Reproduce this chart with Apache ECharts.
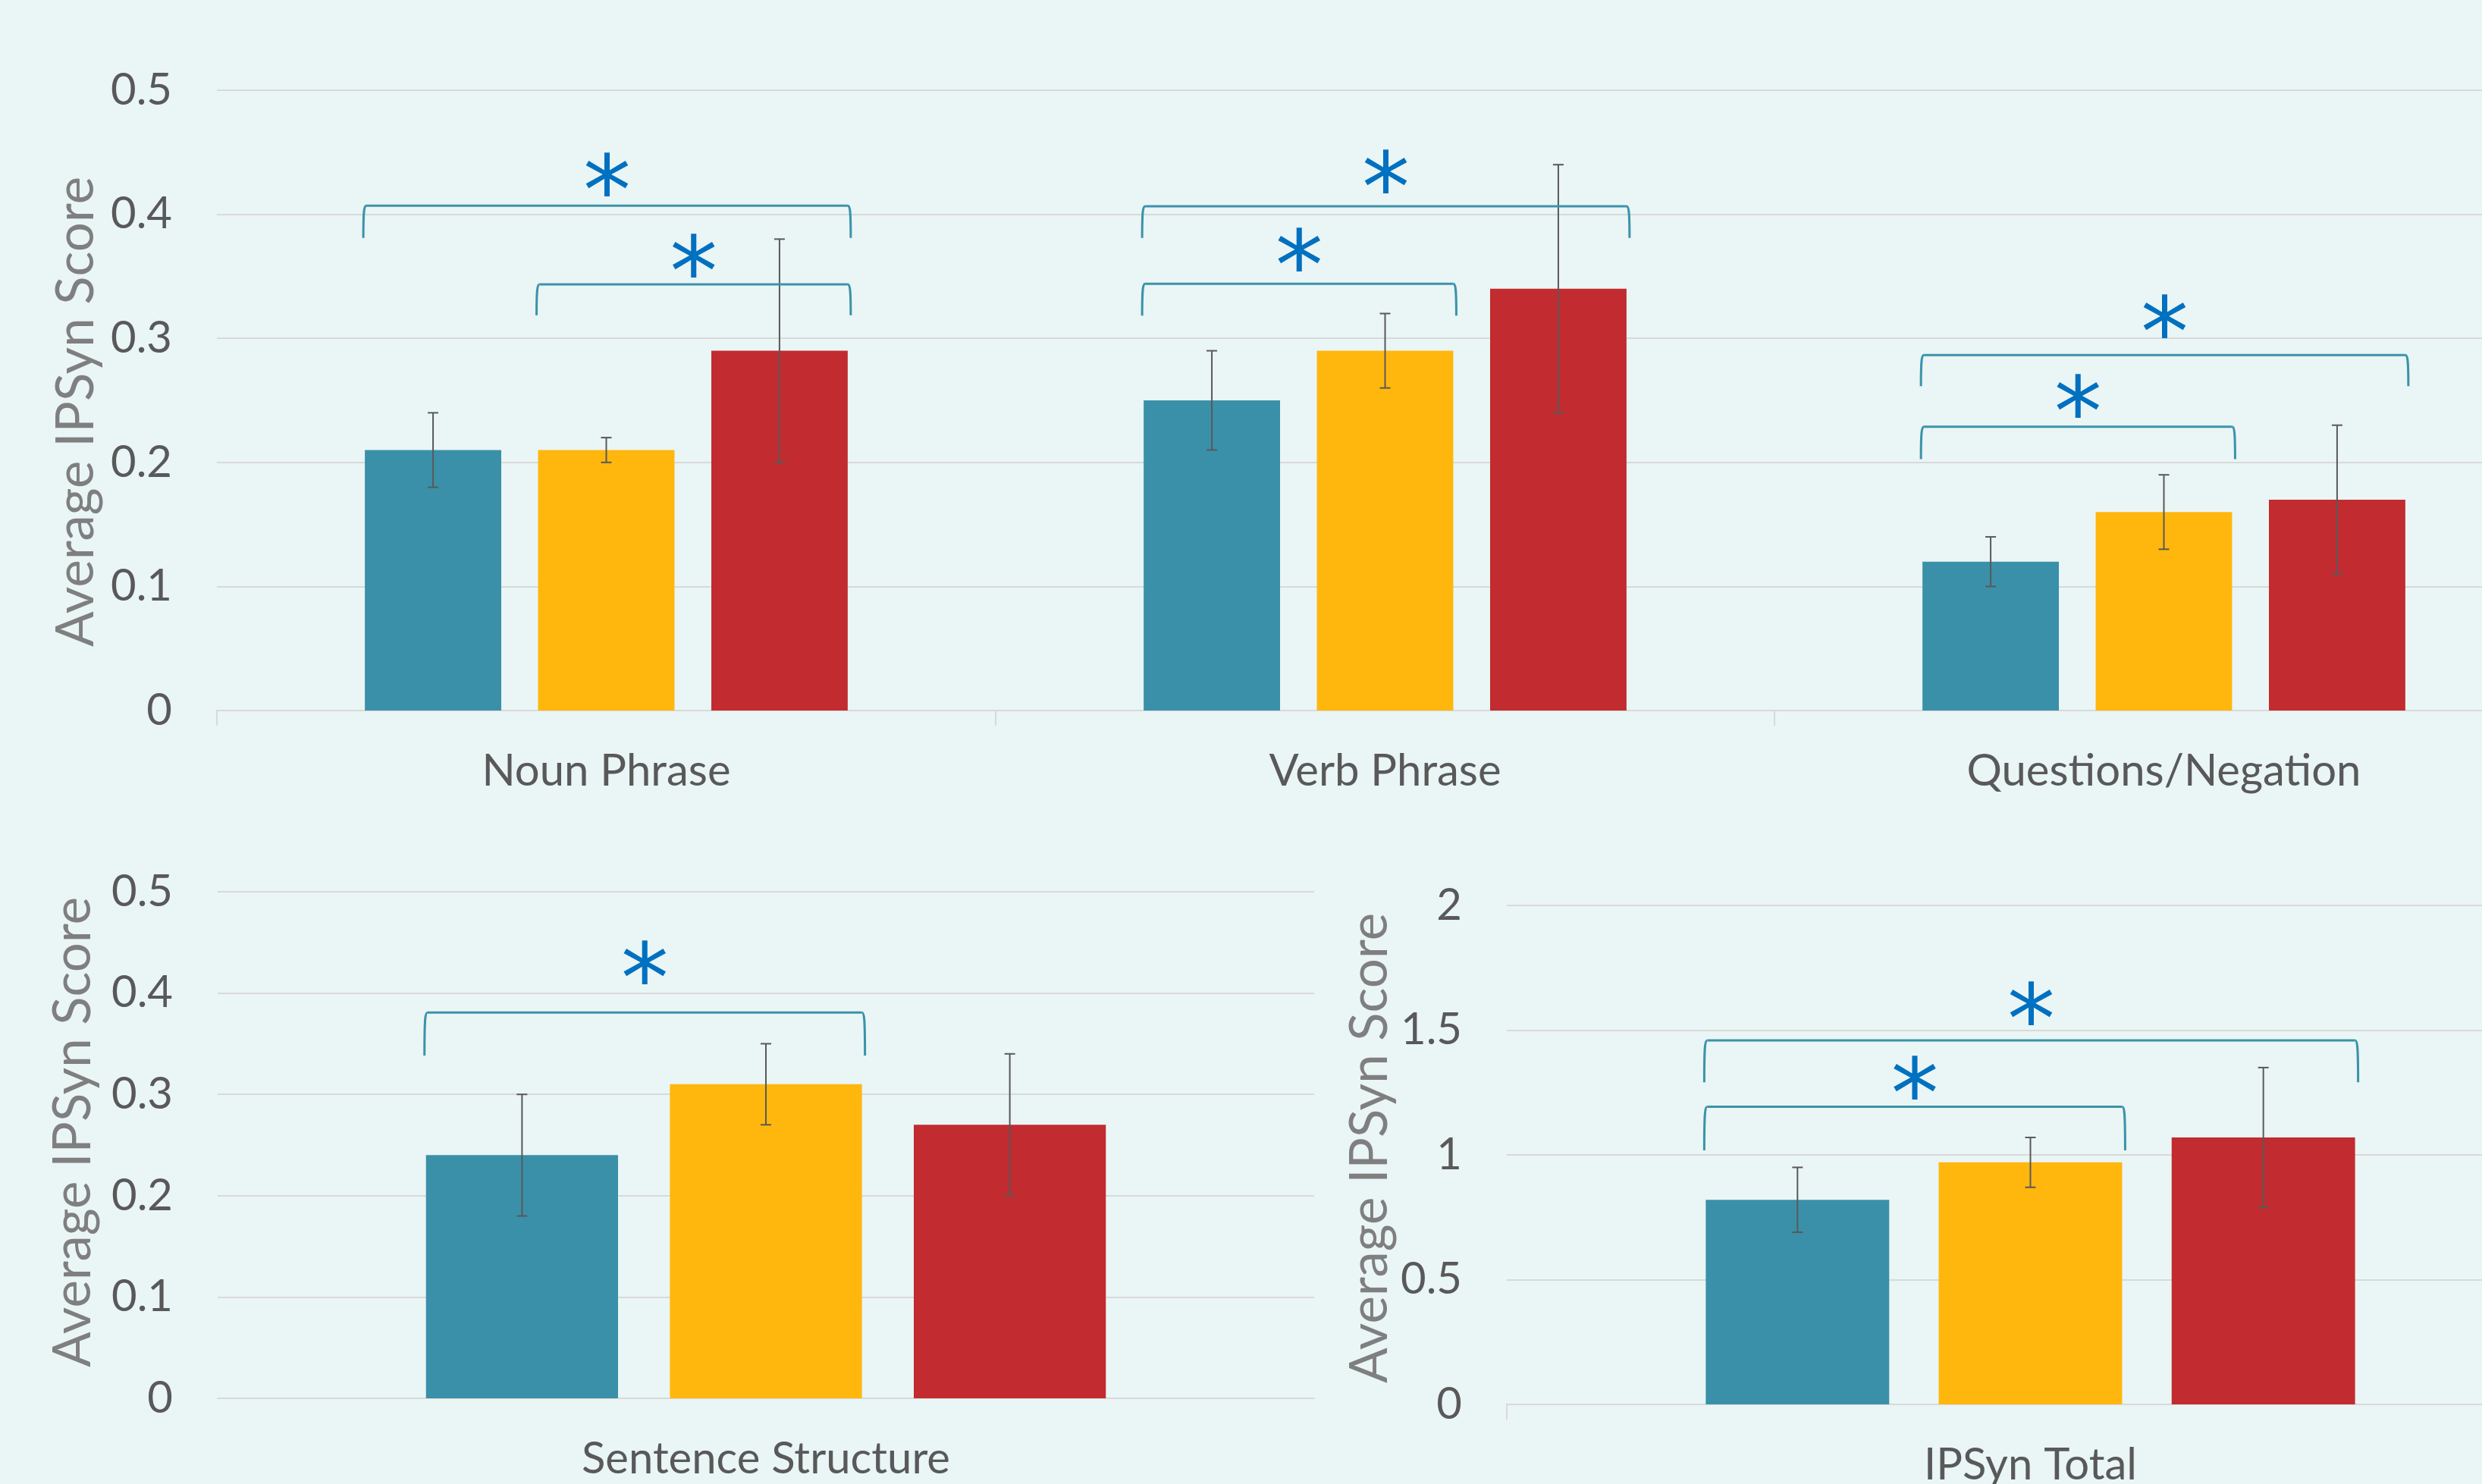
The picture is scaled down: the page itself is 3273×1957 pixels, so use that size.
<!DOCTYPE html>
<html>
<head>
<meta charset="utf-8">
<title>IPSyn scores by subscale</title>
<script src="https://cdn.jsdelivr.net/npm/echarts@6.0.0/dist/echarts.min.js"></script>
<style>
  html, body { margin: 0; padding: 0; background: #EAF5F5; }
  #chart { width: 3273px; height: 1957px; }
</style>
</head>
<body>
<div id="chart"></div>
<script>
// ---- Data: subscales (top panel) ----
const categoriesTop = ['Noun Phrase', 'Verb Phrase', 'Questions/Negation'];
const tealTop   = [0.21, 0.25, 0.12];
const yellowTop = [0.21, 0.29, 0.16];
const redTop    = [0.29, 0.34, 0.17];
// error bar ranges [low, high] per category
const tealTopErr   = [[0.18, 0.24], [0.21, 0.29], [0.10, 0.14]];
const yellowTopErr = [[0.20, 0.22], [0.26, 0.32], [0.13, 0.19]];
const redTopErr    = [[0.20, 0.38], [0.24, 0.44], [0.11, 0.23]];

// ---- Data: sentence structure (bottom left) ----
const categoriesSent = ['Sentence Structure'];
const tealSent   = [0.24];
const yellowSent = [0.31];
const redSent    = [0.27];
const tealSentErr   = [[0.18, 0.30]];
const yellowSentErr = [[0.27, 0.35]];
const redSentErr    = [[0.20, 0.34]];

// ---- Data: total score (bottom right) ----
const categoriesTotal = ['IPSyn Total'];
const tealTotal   = [0.82];
const yellowTotal = [0.97];
const redTotal    = [1.07];
const tealTotalErr   = [[0.69, 0.95]];
const yellowTotalErr = [[0.87, 1.07]];
const redTotalErr    = [[0.79, 1.35]];

// ---- Significance brackets: [category, fromBar, toBar, lineY, footY, starY] ----
const bracketsTop = [
  [0, 0, 2, 0.407, 0.381, 0.432],
  [0, 1, 2, 0.3435, 0.3186, 0.367],
  [1, 0, 2, 0.4065, 0.381, 0.4346],
  [1, 0, 1, 0.344, 0.3183, 0.3714],
  [2, 0, 2, 0.2865, 0.2614, 0.3178],
  [2, 0, 1, 0.2287, 0.2027, 0.2537]
];
const bracketsSent = [
  [0, 0, 1, 0.3808, 0.3383, 0.4304]
];
const bracketsTotal = [
  [0, 0, 2, 1.4587, 1.291, 1.608],
  [0, 0, 1, 1.1927, 1.018, 1.309]
];

const axisTitle = 'Average IPSyn Score';
const starMark = '*';

// ---- Styling ----
const FONT = 'Lato';
const COLORS = ['#3A90A8', '#FFB70D', '#C22B2F'];
const CAT_GAP = 0.38;
const BAR_GAP = 0.27;
const GRID_LINE = '#D9D9D9';
const LABEL_COLOR = '#595959';
const TITLE_COLOR = '#7F7F7F';
const BRACKET_COLOR = '#3A93AA';
const STAR_COLOR = '#0070C0';
const STAR_FONT = 'DejaVu Sans';
const STAR_SIZE = 126;

// measure the asterisk glyph so its ink is centred on the anchor point
const starOffset = (function () {
  const c = document.createElement('canvas').getContext('2d');
  c.font = STAR_SIZE + 'px "' + STAR_FONT + '"';
  c.textBaseline = 'middle';
  c.textAlign = 'center';
  const m = c.measureText(starMark);
  return {
    dx: (m.actualBoundingBoxRight - m.actualBoundingBoxLeft) / 2,
    dy: (m.actualBoundingBoxDescent - m.actualBoundingBoxAscent) / 2
  };
})();

function barGeom(band) {
  const avail = band * (1 - CAT_GAP);
  const w = avail / (3 + 2 * BAR_GAP);
  return { avail: avail, w: w };
}
function barLeftX(center, band, i) {
  const g = barGeom(band);
  return center - g.avail / 2 + i * g.w * (1 + BAR_GAP);
}

function errorItem(params, api) {
  const cat = api.value(0), lo = api.value(1), hi = api.value(2), idx = api.value(3);
  const band = api.size([1, 0])[0];
  const pLo = api.coord([cat, lo]);
  const pHi = api.coord([cat, hi]);
  const x = barLeftX(pLo[0], band, idx) + barGeom(band).w / 2;
  const s = { stroke: '#595959', lineWidth: 2 };
  const cap = 7;
  return {
    type: 'group',
    children: [
      { type: 'line', shape: { x1: x, y1: pLo[1], x2: x, y2: pHi[1] }, style: s },
      { type: 'line', shape: { x1: x - cap, y1: pLo[1], x2: x + cap, y2: pLo[1] }, style: s },
      { type: 'line', shape: { x1: x - cap, y1: pHi[1], x2: x + cap, y2: pHi[1] }, style: s }
    ]
  };
}

function bracketItem(params, api) {
  const cat = api.value(0), from = api.value(1), to = api.value(2);
  const band = api.size([1, 0])[0];
  const cx = api.coord([cat, 0])[0];
  const w = barGeom(band).w;
  const L = barLeftX(cx, band, from) - 2;
  const R = barLeftX(cx, band, to) + w + 4;
  const yt = api.coord([cat, api.value(3)])[1];
  const yf = api.coord([cat, api.value(4)])[1];
  const ys = api.coord([cat, api.value(5)])[1];
  const s = { stroke: BRACKET_COLOR, lineWidth: 3, fill: null };
  return {
    type: 'group',
    children: [
      { type: 'bezierCurve', shape: { x1: L, y1: yf, cpx1: L, cpy1: yt + 6, cpx2: L + 1, cpy2: yt, x2: L + 4, y2: yt }, style: s },
      { type: 'line', shape: { x1: L + 4, y1: yt, x2: R - 4, y2: yt }, style: s },
      { type: 'bezierCurve', shape: { x1: R, y1: yf, cpx1: R, cpy1: yt + 6, cpx2: R - 1, cpy2: yt, x2: R - 4, y2: yt }, style: s },
      {
        type: 'text',
        x: (L + R) / 2 - starOffset.dx,
        y: ys - starOffset.dy,
        style: {
          text: starMark, fontSize: STAR_SIZE, fontFamily: STAR_FONT,
          fill: STAR_COLOR, align: 'center', verticalAlign: 'middle'
        }
      }
    ]
  };
}

function xAxisFor(gridIndex, data, showTick) {
  return {
    type: 'category', gridIndex: gridIndex, data: data,
    axisLine: { show: true, lineStyle: { color: GRID_LINE, width: 2 } },
    axisTick: { show: showTick, length: 20, lineStyle: { color: GRID_LINE, width: 2 } },
    axisLabel: { color: LABEL_COLOR, fontFamily: FONT, fontSize: 58, margin: 51 },
    splitLine: { show: false }
  };
}
// titlePad shifts the rotated title along the axis (left pad moves it up, right pad down)
function yAxisFor(gridIndex, max, interval, nameGap, titlePad) {
  return {
    type: 'value', gridIndex: gridIndex, min: 0, max: max, interval: interval,
    name: axisTitle, nameLocation: 'middle', nameGap: nameGap,
    nameTextStyle: { color: TITLE_COLOR, fontFamily: FONT, fontSize: 69, padding: titlePad },
    axisLine: { show: false }, axisTick: { show: false },
    axisLabel: { color: LABEL_COLOR, fontFamily: FONT, fontSize: 58, margin: 59 },
    splitLine: { lineStyle: { color: GRID_LINE, width: 2 } }
  };
}

function barSeries(gridIndex, values, colorIdx) {
  return {
    type: 'bar', xAxisIndex: gridIndex, yAxisIndex: gridIndex,
    data: values, barGap: (BAR_GAP * 100) + '%', barCategoryGap: (CAT_GAP * 100) + '%',
    itemStyle: { color: COLORS[colorIdx] }, silent: true, animation: false
  };
}
function errorRows(lists) {
  const rows = [];
  lists.forEach(function (list, idx) {
    list.forEach(function (r, cat) { rows.push([cat, r[0], r[1], idx]); });
  });
  return rows;
}
function errorSeries(gridIndex, lists) {
  return {
    type: 'custom', xAxisIndex: gridIndex, yAxisIndex: gridIndex,
    renderItem: errorItem, data: errorRows(lists), z: 5, silent: true, animation: false
  };
}
function bracketSeries(gridIndex, rows) {
  return {
    type: 'custom', xAxisIndex: gridIndex, yAxisIndex: gridIndex,
    renderItem: bracketItem, data: rows, z: 6, silent: true, animation: false, clip: false
  };
}

function gridAt(left, top, width, height) {
  return { left: left, top: top, width: width, height: height, containLabel: false, outerBoundsMode: 'none' };
}

const chart = echarts.init(document.getElementById('chart'), null, { renderer: 'canvas' });
chart.setOption({
  backgroundColor: '#EAF5F5',
  animation: false,
  textStyle: { fontFamily: FONT },
  grid: [
    gridAt(286, 119, 3081, 818),
    gridAt(287, 1176, 1446, 668),
    gridAt(1987, 1194, 1381, 658)
  ],
  xAxis: [
    xAxisFor(0, categoriesTop, true),
    xAxisFor(1, categoriesSent, false),
    xAxisFor(2, categoriesTotal, true)
  ],
  yAxis: [
    yAxisFor(0, 0.5, 0.1, 150, [0, 30, 0, 0]),
    yAxisFor(1, 0.5, 0.1, 156, [0, 0, 0, 34]),
    yAxisFor(2, 2, 0.5, 146, [0, 0, 0, 18])
  ],
  series: [
    barSeries(0, tealTop, 0), barSeries(0, yellowTop, 1), barSeries(0, redTop, 2),
    errorSeries(0, [tealTopErr, yellowTopErr, redTopErr]),
    bracketSeries(0, bracketsTop),
    barSeries(1, tealSent, 0), barSeries(1, yellowSent, 1), barSeries(1, redSent, 2),
    errorSeries(1, [tealSentErr, yellowSentErr, redSentErr]),
    bracketSeries(1, bracketsSent),
    barSeries(2, tealTotal, 0), barSeries(2, yellowTotal, 1), barSeries(2, redTotal, 2),
    errorSeries(2, [tealTotalErr, yellowTotalErr, redTotalErr]),
    bracketSeries(2, bracketsTotal)
  ]
});
</script>
</body>
</html>
